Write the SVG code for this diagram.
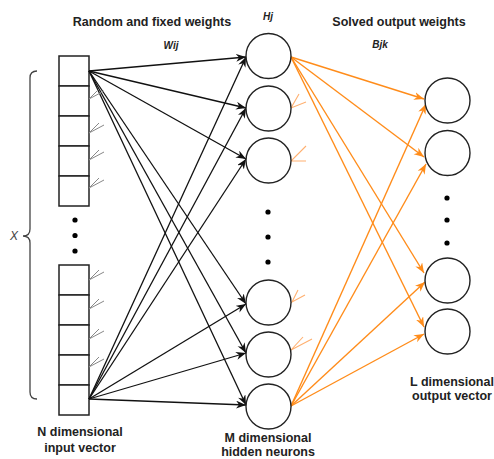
<svg xmlns="http://www.w3.org/2000/svg" width="494" height="459" viewBox="0 0 494 459">
<style>
  .lbl{font-family:"Liberation Sans",Arial,sans-serif;font-weight:bold;font-size:12.5px;fill:#222;text-anchor:middle}
  .sym{font-family:"Liberation Sans",Arial,sans-serif;font-weight:bold;font-style:italic;font-size:10px;fill:#222;text-anchor:middle}
  .box{fill:#fff;stroke:#222;stroke-width:1.5}
  .neuron{fill:#fff;stroke:#222;stroke-width:1.4}
  .dot{fill:#000}
  .blk{stroke:#111;stroke-width:1.3;fill:none;marker-end:url(#ab)}
  .org{stroke:#ff8c1a;stroke-width:1.4;fill:none;marker-end:url(#ao)}
  .gstub{stroke:#888;stroke-width:1;fill:none}
  .ostub{stroke:#ffb070;stroke-width:1.1;fill:none}
</style>
<defs>
  <marker id="ab" markerUnits="userSpaceOnUse" markerWidth="11" markerHeight="9" refX="10" refY="4" orient="auto">
    <path d="M0,0 L10,4 L0,8 L3,4 Z" fill="#111"/>
  </marker>
  <marker id="ao" markerUnits="userSpaceOnUse" markerWidth="11" markerHeight="9" refX="10" refY="4" orient="auto">
    <path d="M0,0 L10,4 L0,8 L3,4 Z" fill="#ff8c1a"/>
  </marker>
</defs>
<rect width="494" height="459" fill="#fff"/>

<!-- labels -->
<text class="lbl" x="152" y="26">Random and fixed weights</text>
<text class="sym" x="171" y="49">Wij</text>
<text class="sym" x="268" y="20">Hj</text>
<text class="lbl" x="399" y="26">Solved output weights</text>
<text class="sym" x="380" y="48">Bjk</text>
<text class="lbl" x="80" y="436">N dimensional</text>
<text class="lbl" x="80" y="452">input vector</text>
<text class="lbl" x="268" y="442">M dimensional</text>
<text class="lbl" x="268" y="456">hidden neurons</text>
<text class="lbl" x="452" y="386">L dimensional</text>
<text class="lbl" x="452" y="400">output vector</text>
<text x="14" y="240" style="font-family:'Liberation Sans',Arial,sans-serif;font-style:italic;font-size:12px;fill:#444;text-anchor:middle">X</text>

<!-- brace -->
<path d="M37,71 Q30,71 30,78 L30,229 Q30,236 23,236 Q30,236 30,243 L30,392 Q30,399 37,399" fill="none" stroke="#444" stroke-width="1.3"/>

<!-- input vector -->
<g id="input-top">
  <rect class="box" x="59" y="56" width="30" height="30"/>
  <rect class="box" x="59" y="86" width="30" height="30"/>
  <rect class="box" x="59" y="116" width="30" height="30"/>
  <rect class="box" x="59" y="146" width="30" height="30"/>
  <rect class="box" x="59" y="176" width="30" height="30"/>
</g>
<g id="input-dots">
  <circle class="dot" cx="75" cy="220" r="2.6"/>
  <circle class="dot" cx="75" cy="235.5" r="2.6"/>
  <circle class="dot" cx="75" cy="251" r="2.6"/>
</g>
<g id="input-bottom">
  <rect class="box" x="59" y="265" width="30" height="30"/>
  <rect class="box" x="59" y="295" width="30" height="30"/>
  <rect class="box" x="59" y="325" width="30" height="30"/>
  <rect class="box" x="59" y="355" width="30" height="30"/>
  <rect class="box" x="59" y="385" width="30" height="30"/>
</g>

<!-- connectors -->
<g id="connectors">
  <g id="input-to-hidden">
    <line class="blk" x1="89" y1="71" x2="246" y2="57"/>
    <line class="blk" x1="89" y1="71" x2="246" y2="108"/>
    <line class="blk" x1="89" y1="71" x2="246" y2="159"/>
    <line class="blk" x1="89" y1="71" x2="246" y2="304"/>
    <line class="blk" x1="89" y1="71" x2="246" y2="353"/>
    <line class="blk" x1="89" y1="71" x2="246" y2="405"/>
    <line class="blk" x1="89" y1="399" x2="246" y2="57"/>
    <line class="blk" x1="89" y1="399" x2="246" y2="108"/>
    <line class="blk" x1="89" y1="399" x2="246" y2="159"/>
    <line class="blk" x1="89" y1="399" x2="246" y2="304"/>
    <line class="blk" x1="89" y1="399" x2="246" y2="353"/>
    <line class="blk" x1="89" y1="399" x2="246" y2="405"/>
  </g>
  <g id="hidden-to-output">
    <line class="org" x1="291" y1="57" x2="424" y2="99"/>
    <line class="org" x1="291" y1="57" x2="424" y2="157"/>
    <line class="org" x1="291" y1="57" x2="424" y2="273"/>
    <line class="org" x1="291" y1="57" x2="424" y2="327"/>
    <line class="org" x1="291" y1="406" x2="426" y2="104"/>
    <line class="org" x1="291" y1="406" x2="426" y2="164"/>
    <line class="org" x1="291" y1="406" x2="425" y2="282"/>
    <line class="org" x1="291" y1="406" x2="424" y2="334"/>
  </g>
  <g id="stubs">
    <path class="gstub" d="M104,91 L89,99 L99,89"/>
    <path class="gstub" d="M104,125 L89,133 L99,123"/>
    <path class="gstub" d="M104,152 L89,160 L99,150"/>
    <path class="gstub" d="M104,180 L89,188 L99,178"/>
    <path class="gstub" d="M104,272 L89,280 L99,270"/>
    <path class="gstub" d="M104,301 L89,309 L99,299"/>
    <path class="gstub" d="M104,331 L89,339 L99,329"/>
    <path class="gstub" d="M104,359 L89,367 L99,357"/>
    <path class="ostub" d="M299,94 L291,108 L306,102"/>
    <path class="ostub" d="M306,146 L291,161 L306,161"/>
    <path class="ostub" d="M298,290 L292,302 L305,295"/>
    <path class="ostub" d="M303,337 L291,350 L312,339"/>
  </g>
</g>

<!-- hidden neurons -->
<g id="hidden-1"><circle class="neuron" cx="268.5" cy="56" r="22.5"/></g>
<g id="hidden-2"><circle class="neuron" cx="268.5" cy="108.5" r="22.5"/></g>
<g id="hidden-3"><circle class="neuron" cx="268.5" cy="160.5" r="22.5"/></g>
<g id="hidden-dots">
  <circle class="dot" cx="268" cy="212" r="2.6"/>
  <circle class="dot" cx="268" cy="237" r="2.6"/>
  <circle class="dot" cx="268" cy="262" r="2.6"/>
</g>
<g id="hidden-4"><circle class="neuron" cx="268.5" cy="302.5" r="22.5"/></g>
<g id="hidden-5"><circle class="neuron" cx="268.5" cy="354.5" r="22.5"/></g>
<g id="hidden-6"><circle class="neuron" cx="268.5" cy="406.5" r="22.5"/></g>

<!-- output neurons -->
<g id="output-1"><circle class="neuron" cx="447.5" cy="100.5" r="22.5"/></g>
<g id="output-2"><circle class="neuron" cx="447.5" cy="153" r="22.5"/></g>
<g id="output-dots">
  <circle class="dot" cx="447" cy="198" r="2.6"/>
  <circle class="dot" cx="447" cy="220" r="2.6"/>
  <circle class="dot" cx="447" cy="243" r="2.6"/>
</g>
<g id="output-3"><circle class="neuron" cx="447.5" cy="280.5" r="22.5"/></g>
<g id="output-4"><circle class="neuron" cx="447.5" cy="331.5" r="22.5"/></g>
</svg>
